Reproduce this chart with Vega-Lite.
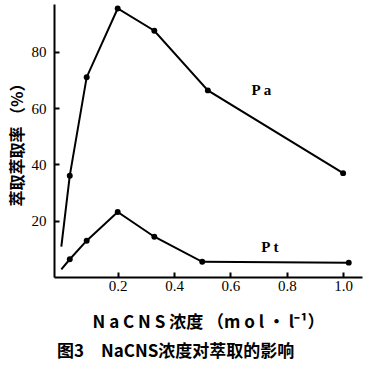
{
  "$schema": "https://vega.github.io/schema/vega-lite/v6.json",
  "width": 308,
  "height": 273,
  "autosize": {"type": "none"},
  "padding": {"left": 54, "top": 4, "right": 21, "bottom": 94},
  "background": "white",
  "title": {
    "text": "图3　NaCNS浓度对萃取的影响",
    "orient": "bottom",
    "anchor": "start",
    "frame": "group",
    "dx": 3,
    "offset": 14,
    "font": "Noto Sans CJK SC",
    "fontSize": 17,
    "fontWeight": "bold",
    "color": "black"
  },
  "config": {
    "view": {"stroke": null},
    "axis": {
      "grid": false,
      "domainColor": "black",
      "domainWidth": 2,
      "tickColor": "black",
      "tickWidth": 2,
      "tickSize": -5,
      "labelColor": "black",
      "labelFont": "Liberation Serif",
      "labelFontSize": 15,
      "titleColor": "black"
    }
  },
  "datasets": {
    "curves": [
      {"series": "Pa", "x": 0.0, "y": 10.8},
      {"series": "Pa", "x": 0.03, "y": 36},
      {"series": "Pa", "x": 0.09, "y": 71},
      {"series": "Pa", "x": 0.2, "y": 95.4},
      {"series": "Pa", "x": 0.33, "y": 87.5},
      {"series": "Pa", "x": 0.52, "y": 66.3},
      {"series": "Pa", "x": 1.0, "y": 36.9},
      {"series": "Pt", "x": 0.0, "y": 2.7},
      {"series": "Pt", "x": 0.03, "y": 6.3},
      {"series": "Pt", "x": 0.09, "y": 12.9},
      {"series": "Pt", "x": 0.2, "y": 23.1},
      {"series": "Pt", "x": 0.33, "y": 14.3},
      {"series": "Pt", "x": 0.5, "y": 5.4},
      {"series": "Pt", "x": 1.02, "y": 5.1}
    ],
    "labels": [
      {"label": "P a", "x": 0.71, "y": 66.5},
      {"label": "P t", "x": 0.74, "y": 10.7}
    ]
  },
  "layer": [
    {
      "data": {"name": "curves"},
      "mark": {"type": "line", "color": "black", "strokeWidth": 2},
      "encoding": {
        "x": {
          "field": "x",
          "type": "quantitative",
          "scale": {"domain": [-0.026, 1.067], "nice": false, "zero": false},
          "axis": {
            "values": [0.2, 0.4, 0.6, 0.8, 1.0],
            "format": ".1f",
            "labelPadding": 6,
            "title": "N a C N S 浓度 （m o l · l⁻¹）",
            "titleFont": "Noto Sans CJK SC",
            "titleFontSize": 17,
            "titleFontWeight": "bold",
            "titlePadding": 21
          }
        },
        "y": {
          "field": "y",
          "type": "quantitative",
          "scale": {"domain": [0, 97], "nice": false},
          "axis": {
            "values": [20, 40, 60, 80],
            "labelPadding": 13,
            "title": "萃取萃取率 （%）",
            "titleFont": "Noto Sans CJK SC",
            "titleFontSize": 16,
            "titleFontWeight": "bold",
            "titlePadding": 6
          }
        },
        "detail": {"field": "series"}
      }
    },
    {
      "data": {"name": "curves"},
      "transform": [{"filter": "datum.x > 0"}],
      "mark": {"type": "point", "filled": true, "color": "black", "size": 35, "opacity": 1},
      "encoding": {
        "x": {"field": "x", "type": "quantitative"},
        "y": {"field": "y", "type": "quantitative"}
      }
    },
    {
      "data": {"name": "labels"},
      "mark": {"type": "text", "font": "Liberation Serif", "fontSize": 15, "fontWeight": "bold", "color": "black"},
      "encoding": {
        "x": {"field": "x", "type": "quantitative"},
        "y": {"field": "y", "type": "quantitative"},
        "text": {"field": "label"}
      }
    }
  ]
}
